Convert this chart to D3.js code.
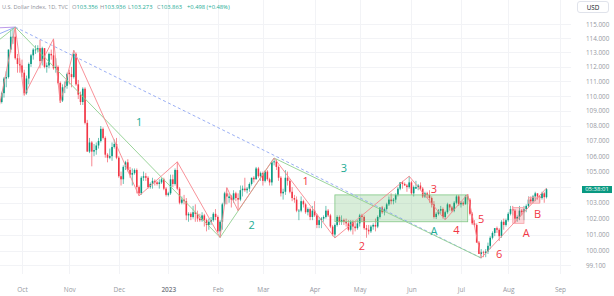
<!DOCTYPE html>
<html><head><meta charset="utf-8">
<script src="https://cdn.jsdelivr.net/npm/d3@7"></script>
<style>html,body{margin:0;padding:0;background:#fff;}svg{display:block;font-family:"Open Sans",Roboto,sans-serif;}</style>
</head><body><svg id="c" width="614" height="296"></svg>
<script>
// ---------- DATA ----------
const firstBar = "2022-09-19"; // consecutive weekdays from here
const opens = [
109.8,109.6,110.2,111.2,111.3,113.2,114.1,114.1,112.6,112.2,
112.1,111.6,110.2,111.2,112.2,112.8,113.2,113.2,113.3,112.4,113.3,112.0,112.1,112.9,112.8,111.9,112.0,110.9,109.7,110.6,110.7,
111.6,111.5,111.3,112.9,110.8,110.1,109.6,110.5,108.2,106.3,106.9,106.3,106.4,106.7,107.0,107.8,107.2,106.1,105.9,106.0,106.6,106.8,
105.9,104.7,104.5,105.3,105.6,105.1,104.8,104.9,105.1,104.0,103.6,104.6,104.7,104.6,104.0,104.2,104.4,104.3,104.2,104.3,104.5,103.9,
103.5,103.6,104.5,104.2,105.1,103.9,103.0,103.2,103.1,102.2,102.3,102.1,102.4,102.3,102.0,101.9,102.2,101.9,101.6,101.8,101.9,102.3,
102.1,101.2,101.8,102.9,103.6,103.3,103.4,103.2,103.6,103.3,103.2,103.8,103.9,103.8,103.9,104.2,104.6,104.5,105.2,104.7,
104.9,104.4,105.0,104.5,104.3,105.6,105.66,105.3,104.6,103.6,103.7,104.6,104.4,103.7,103.3,103.2,102.5,102.5,103.1,102.9,102.4,102.6,102.1,
102.5,102.2,101.6,101.9,102.0,102.1,102.5,102.2,101.5,101.0,101.6,102.1,101.8,101.9,101.8,101.7,101.3,101.8,101.5,101.4,
101.7,102.2,102.1,101.4,101.3,101.2,101.5,101.6,101.5,102.1,102.7,102.4,102.6,102.9,103.2,103.1,103.2,103.5,103.9,104.3,104.2,104.1,104.0,
104.3,103.6,103.9,104.0,104.1,103.9,103.4,103.6,103.5,103.3,102.9,102.1,102.3,102.5,102.6,102.1,102.4,102.9,102.7,102.5,103.0,103.4,
102.9,103.0,102.9,103.4,103.2,102.3,101.7,101.6,100.5,99.8,99.9,99.85,99.95,100.3,100.8,101.1,101.4,101.3,100.9,101.8,101.6,
101.9,102.3,102.6,102.5,102.0,102.1,102.5,102.4,102.6,102.8,103.2,103.1,103.4,103.6,103.4,103.3,103.6,103.356];
const highs = [
109.9,110.3,111.3,111.7,113.2,114.6,114.7,114.78,112.9,112.6,
112.5,111.8,111.4,112.3,112.9,113.3,113.5,113.5,113.88,113.4,113.3,112.3,113.0,113.2,113.95,112.6,112.1,111.0,110.8,111.0,111.6,
111.8,112.0,113.15,113.0,111.1,110.3,110.6,110.6,108.4,107.2,107.0,106.8,106.9,107.2,107.99,107.9,107.3,106.2,106.5,106.9,107.1,107.2,
106.0,105.0,105.4,105.7,105.8,105.3,105.2,105.2,105.2,104.1,104.7,105.0,104.9,104.7,104.3,104.6,104.5,104.4,104.5,104.6,104.6,104.0,
103.7,104.8,104.8,105.2,105.63,104.0,103.4,103.5,103.3,102.4,102.4,102.8,102.9,102.5,102.3,102.4,102.3,102.0,102.0,102.1,102.4,102.6,
102.2,101.9,103.0,103.7,103.96,103.6,103.5,103.8,103.7,103.6,104.1,104.1,104.6,104.0,104.3,104.6,104.7,105.3,105.3,105.0,
105.0,105.1,105.1,104.6,105.7,105.88,105.8,105.4,104.7,103.9,105.1,105.0,104.5,104.0,103.5,103.4,102.6,103.4,103.2,103.0,102.7,102.7,102.8,
103.1,102.3,102.1,102.1,102.2,102.8,102.6,102.3,101.6,101.7,102.2,102.2,102.2,102.0,102.0,101.9,101.9,101.9,101.8,101.9,
102.3,102.3,102.2,101.6,101.6,101.6,101.7,102.0,102.2,102.7,102.8,102.7,103.0,103.4,103.6,103.3,103.6,104.0,104.3,104.4,104.3,104.2,104.7,
104.4,104.1,104.4,104.2,104.3,104.0,103.7,103.7,103.8,103.4,103.1,102.4,102.6,102.8,102.7,102.5,103.0,102.9,102.8,103.1,103.5,103.5,
103.1,103.1,103.5,103.55,103.3,102.4,101.9,101.7,100.6,100.1,100.0,100.1,100.5,100.9,101.2,101.4,101.5,101.4,101.9,102.0,102.0,
102.4,102.8,102.8,102.6,102.2,102.8,102.6,102.8,102.9,103.4,103.4,103.5,103.7,103.6,103.5,103.7,103.7,103.936];
const lows = [
109.4,109.5,109.9,110.6,111.2,113.0,113.6,112.5,111.6,111.6,
111.3,110.05,110.1,110.8,112.0,112.5,112.9,113.0,111.9,112.1,111.9,111.6,111.9,112.5,111.8,111.6,110.8,109.54,109.6,110.2,110.5,
110.8,110.6,111.2,110.7,109.8,109.4,109.4,108.1,106.3,106.2,105.34,106.0,106.1,106.5,106.9,107.1,105.9,105.6,105.8,105.7,106.5,105.8,
104.6,104.1,104.2,105.1,105.0,104.6,104.1,104.8,103.6,103.44,103.5,104.4,104.4,103.9,103.9,103.9,104.1,104.1,103.9,104.2,103.8,103.4,
103.4,103.5,104.0,104.1,103.8,102.9,102.9,102.9,101.9,101.8,101.9,102.0,101.8,101.8,101.8,101.8,101.5,101.2,101.3,101.6,101.8,101.9,
101.1,100.82,101.3,102.8,102.9,103.0,102.7,103.0,103.1,102.5,103.1,103.4,103.7,103.6,103.7,104.1,104.3,104.5,104.6,104.4,
104.1,104.3,104.4,104.1,104.1,105.4,105.1,104.4,103.4,103.2,103.5,104.1,103.6,103.1,103.0,102.4,101.9,102.4,102.7,102.3,102.2,101.9,101.9,
102.1,101.4,101.4,101.4,101.8,102.0,102.1,101.4,100.9,100.79,101.5,101.6,101.6,101.6,101.5,101.2,101.2,101.0,101.2,101.3,
101.5,101.8,101.3,100.8,101.0,101.1,101.3,101.2,101.4,102.0,102.3,102.2,102.5,102.8,102.9,102.9,103.0,103.4,103.8,103.9,104.1,103.7,103.9,
103.5,103.4,103.9,103.8,103.8,103.3,103.3,103.3,103.0,102.7,102.0,101.97,102.2,102.3,102.0,101.92,102.3,102.5,102.4,102.4,102.9,102.8,
102.7,102.8,102.9,102.9,102.2,101.6,101.5,100.5,99.8,99.55,99.6,99.6,99.8,100.1,100.7,100.9,101.1,100.6,100.8,101.3,101.5,
101.8,102.2,102.2,101.7,101.8,101.9,102.2,101.9,102.4,102.7,102.9,103.0,103.1,103.2,103.0,103.2,103.0,103.273];
const closes = [
109.6,110.2,111.2,111.3,113.2,114.1,114.1,112.6,112.2,112.1,
111.6,110.2,111.2,112.2,112.8,113.2,113.2,113.3,112.4,113.3,112.0,112.1,112.9,112.8,111.9,112.0,110.9,109.7,110.6,110.7,111.5,
111.5,111.3,112.9,110.8,110.1,109.6,110.5,108.2,106.3,106.9,106.3,106.4,106.7,107.0,107.8,107.2,106.1,105.9,106.0,106.6,106.8,105.9,
104.7,104.5,105.3,105.6,105.1,104.8,104.9,105.1,104.0,103.6,104.6,104.7,104.6,104.0,104.2,104.4,104.3,104.2,104.3,104.5,103.9,103.5,
103.6,104.5,104.2,105.1,103.9,103.0,103.2,103.1,102.2,102.3,102.1,102.4,102.3,102.0,101.9,102.2,101.9,101.6,101.8,101.9,102.3,102.1,
101.2,101.8,102.9,103.6,103.4,103.4,103.2,103.6,103.3,103.2,103.8,103.9,103.8,103.9,104.2,104.6,104.5,105.2,104.7,104.9,
104.4,105.0,104.5,104.3,105.6,105.66,105.3,104.6,103.6,103.7,104.6,104.4,103.7,103.3,103.2,102.5,102.5,103.1,102.9,102.4,102.6,102.1,102.5,
102.2,101.6,101.9,102.0,102.1,102.5,102.2,101.5,101.0,101.6,102.1,101.8,101.9,101.8,101.7,101.3,101.8,101.5,101.4,101.7,
102.2,102.1,101.4,101.3,101.2,101.5,101.6,101.5,102.1,102.7,102.4,102.6,102.9,103.2,103.1,103.2,103.5,103.9,104.3,104.2,104.1,104.0,104.3,
103.6,104.0,104.0,104.1,103.9,103.4,103.6,103.5,103.3,102.9,102.1,102.3,102.5,102.6,102.1,102.4,102.9,102.7,102.5,103.0,103.4,102.9,
103.0,102.9,103.4,103.2,102.3,101.7,101.6,100.5,99.8,99.9,99.85,99.95,100.3,100.8,101.1,101.4,101.3,100.9,101.8,101.6,101.9,
102.3,102.6,102.5,102.0,102.1,102.5,102.4,102.6,102.8,103.2,103.1,103.4,103.6,103.4,103.3,103.6,103.356,103.863];

const monthTicks = [["2022-10-03","Oct"],["2022-11-01","Nov"],["2022-12-01","Dec"],["2023-01-02","2023"],["2023-02-01","Feb"],["2023-03-01","Mar"],["2023-04-03","Apr"],["2023-05-01","May"],["2023-06-01","Jun"],["2023-07-03","Jul"],["2023-08-01","Aug"],["2023-09-01","Sep"]];
const priceTicks = [115,114,113,112,111,110,109,108,107,106,105,104,103,102,101,100,99.1];
const hiddenTicks = [104]; // label covered by the last-price box

// wave drawings (date, price)
const redWave = [["2022-09-19",109.4],["2022-09-28",114.78],["2022-10-04",110.05],["2022-10-21",113.95],["2022-10-26",109.54],["2022-11-03",113.15],["2022-12-14",103.44],["2023-01-06",105.63],["2023-02-02",100.82],["2023-02-07",103.96],["2023-02-14",102.5],["2023-03-08",105.88],["2023-04-14",100.79],["2023-05-31",104.7],["2023-06-22",101.92],["2023-07-06",103.55],["2023-07-14",99.55],["2023-08-24",103.936]];
const greenWave = [["2022-09-28",114.78],["2023-02-02",100.82],["2023-03-08",105.88],["2023-07-14",99.55]];
const blueTrend = [["2022-09-28",114.78],["2023-07-14",99.55]];
const purpleLead = [["2022-09-07",114.68],["2022-09-28",114.78]];
const blueLead = [["2022-09-07",113.77],["2022-09-28",114.78]];
const greenLead = [["2022-09-07",112.9],["2022-09-28",114.78]];
const greenBox = [["2023-04-14",103.5],["2023-07-06",101.8]];
const redBoxes = [[["2023-08-03",102.7],["2023-08-10",101.7]],[["2023-08-14",103.35],["2023-08-21",102.97]]];
const tealLabels = [["2022-12-14",108.26,"1"],["2023-02-22",101.59,"2"],["2023-04-20",105.23,"3"],["2023-06-15",101.22,"A"]];
const redLabels = [["2023-03-28",104.39,"1"],["2023-05-02",100.29,"2"],["2023-06-15",103.88,"3"],["2023-06-29",101.28,"4"],["2023-07-14",101.97,"5"],["2023-07-26",99.8,"6"],["2023-08-11",101.1,"A"],["2023-08-18",102.28,"B"]];
const headerTitle = "U.S. Dollar Index, 1D, TVC";
const headerFields = [["O","103.356"],["H","103.936"],["L","103.273"],["C","103.863"]];
const headerChange = "+0.498 (+0.48%)";
const countdown = "05:38:01";

// ---------- SCALES ----------
const fmt = d3.timeFormat("%Y-%m-%d");
const allDays = d3.timeDay.range(new Date(2022,7,1), new Date(2023,9,30)).filter(d => d.getDay()!==0 && d.getDay()!==6);
const idxMap = new Map(allDays.map((d,i)=>[fmt(d), i]));
const origin = idxMap.get("2022-10-03");
const bi = s => idxMap.get(s) - origin;
const x = d3.scaleLinear().domain([0, bi("2023-09-01")]).range([22, 560]);
const y = d3.scaleLog().domain([100, 115]).range([250.7, 24]);
const X = s => x(bi(s));

const paneR = 571, paneB = 274;
const svg = d3.select("#c");
svg.append("defs").append("clipPath").attr("id","pane").append("rect").attr("x",0).attr("y",0).attr("width",paneR).attr("height",paneB);

// grid
const grid = svg.append("g");
grid.selectAll("line.h").data(priceTicks).join("line").attr("x1",0).attr("x2",paneR).attr("y1",d=>Math.round(y(d))+0.5).attr("y2",d=>Math.round(y(d))+0.5).attr("stroke","#f2f3f6");
grid.selectAll("line.v").data(monthTicks).join("line").attr("y1",0).attr("y2",paneB).attr("x1",d=>Math.round(X(d[0]))+0.5).attr("x2",d=>Math.round(X(d[0]))+0.5).attr("stroke","#f2f3f6");

const pane = svg.append("g").attr("clip-path","url(#pane)");

// candles
const b0 = bi(firstBar);
const bars = closes.map((c,k)=>({i:b0+k,o:opens[k],h:highs[k],l:lows[k],c}));
const up = "#089981", dn = "#f23645";
pane.selectAll("line.wick").data(bars).join("line")
  .attr("x1",d=>x(d.i)).attr("x2",d=>x(d.i)).attr("y1",d=>y(d.h)).attr("y2",d=>y(d.l))
  .attr("stroke",d=>d.c>=d.o?up:dn).attr("stroke-width",0.7).attr("opacity",0.85);
pane.selectAll("rect.body").data(bars).join("rect")
  .attr("x",d=>x(d.i)-0.8).attr("width",1.6)
  .attr("y",d=>y(Math.max(d.o,d.c)))
  .attr("height",d=>Math.max(0.7, y(Math.min(d.o,d.c))-y(Math.max(d.o,d.c))))
  .attr("fill",d=>d.c>=d.o?up:dn);

// boxes
pane.append("rect").attr("x",X(greenBox[0][0])).attr("y",y(greenBox[0][1]))
  .attr("width",X(greenBox[1][0])-X(greenBox[0][0])).attr("height",y(greenBox[1][1])-y(greenBox[0][1]))
  .attr("fill","rgba(76,175,80,0.22)").attr("stroke","#81c784").attr("stroke-width",0.8);
pane.selectAll("rect.rb").data(redBoxes).join("rect")
  .attr("x",d=>X(d[0][0])).attr("y",d=>y(d[0][1]))
  .attr("width",d=>X(d[1][0])-X(d[0][0])).attr("height",d=>y(d[1][1])-y(d[0][1]))
  .attr("fill","rgba(242,54,69,0.2)").attr("stroke","#f7a1a7").attr("stroke-width",0.8);

// lines
const ln = d3.line().x(d=>X(d[0])).y(d=>y(d[1]));
pane.append("path").attr("d",ln(blueTrend)).attr("fill","none").attr("stroke","#8ea6f3").attr("stroke-width",0.9).attr("stroke-dasharray","3,2.5");
pane.append("path").attr("d",ln(greenWave)).attr("fill","none").attr("stroke","#8fcf8f").attr("stroke-width",0.9);
pane.append("path").attr("d",ln(redWave)).attr("fill","none").attr("stroke","#f7868d").attr("stroke-width",0.9);
pane.append("path").attr("d",ln(purpleLead)).attr("fill","none").attr("stroke","#b58ee6").attr("stroke-width",0.9);
pane.append("path").attr("d",ln(blueLead)).attr("fill","none").attr("stroke","#8ea6f3").attr("stroke-width",0.9);
pane.append("path").attr("d",ln(greenLead)).attr("fill","none").attr("stroke","#8fcf8f").attr("stroke-width",0.9);

// wave labels
pane.selectAll("text.tl").data(tealLabels).join("text")
  .attr("x",d=>X(d[0])).attr("y",d=>y(d[1])).attr("dy","0.36em").attr("text-anchor","middle")
  .attr("font-size",11).attr("fill","#22ab94").text(d=>d[2]);
pane.selectAll("text.rl").data(redLabels).join("text")
  .attr("x",d=>X(d[0])).attr("y",d=>y(d[1])).attr("dy","0.36em").attr("text-anchor","middle")
  .attr("font-size",11).attr("fill","#f23645").text(d=>d[2]);

// right axis
const yAxis = d3.axisRight(y).tickValues(priceTicks.filter(v=>!hiddenTicks.includes(v))).tickSize(0).tickPadding(0).tickFormat(d3.format(".3f"));
const ya = svg.append("g").attr("transform",`translate(586,0)`).call(yAxis);
ya.select(".domain").remove();
ya.selectAll("text").attr("font-size",6.3).attr("fill","#9598a1").attr("font-family","'Open Sans',Roboto,sans-serif");

// USD box
svg.append("rect").attr("x",577.5).attr("y",1.5).attr("width",31).attr("height",11).attr("rx",2.5).attr("fill","#fff").attr("stroke","#e0e3eb");
svg.append("text").attr("x",593).attr("y",9.5).attr("text-anchor","middle").attr("font-size",6.3).attr("fill","#131722").text("USD");

// last price / countdown box
const lastY = y(closes[closes.length-1]);
svg.append("rect").attr("x",582).attr("y",lastY-3.2).attr("width",30).attr("height",7).attr("fill",up);
svg.append("text").attr("x",597).attr("y",lastY).attr("dy","0.35em").attr("text-anchor","middle").attr("font-size",6).attr("fill","#fff").text(countdown);

// bottom axis
const xAxis = d3.axisBottom(x).tickValues(monthTicks.map(d=>bi(d[0]))).tickSize(0).tickPadding(0)
  .tickFormat((v,i)=>monthTicks[i][1]);
const xa = svg.append("g").attr("transform","translate(0,287)").call(xAxis);
xa.select(".domain").remove();
xa.selectAll("text").attr("font-size",6.5).attr("font-family","'Open Sans',Roboto,sans-serif")
  .attr("font-weight",(v,i)=>monthTicks[i][1]==="2023"?600:400)
  .attr("fill",(v,i)=>monthTicks[i][1]==="2023"?"#787b86":"#9598a1");

// header
svg.append("text").attr("x",2).attr("y",9).attr("font-size",5.6).attr("fill","#8f929b").text(headerTitle);
const fx = [72,100,128,157];
headerFields.forEach((p,k)=>{
  const t = svg.append("text").attr("x",fx[k]).attr("y",9).attr("font-size",5.8);
  t.append("tspan").attr("fill","#8f929b").text(p[0]);
  t.append("tspan").attr("fill","#22ab94").text(p[1]);
});
svg.append("text").attr("x",187).attr("y",9).attr("font-size",5.8).attr("fill","#22ab94").text(headerChange);
</script></body></html>
